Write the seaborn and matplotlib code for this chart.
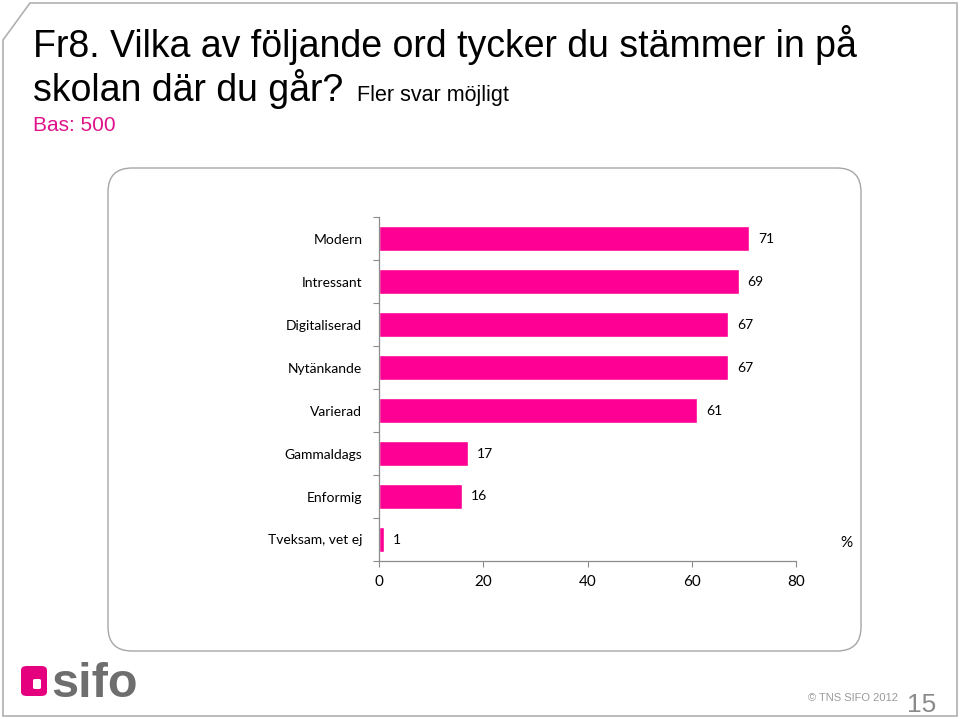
import numpy as np
import pandas as pd
import matplotlib
matplotlib.use("Agg")
import matplotlib.pyplot as plt
import seaborn as sns
from matplotlib.patches import FancyBboxPatch, Polygon

# Data
categories = ["Modern", "Intressant", "Digitaliserad", "Nytänkande",
              "Varierad", "Gammaldags", "Enformig", "Tveksam, vet ej"]
values = [71, 69, 67, 67, 61, 17, 16, 1]
x_ticks = [0, 20, 40, 60, 80]

PINK = "#ff0094"
GREY = "#8c8c8c"

sns.set_theme(style="white")
plt.rcParams["font.family"] = ["Lato", "DejaVu Sans"]

fig = plt.figure(figsize=(9.6, 7.19), dpi=100)
W, H = 960, 719


def fx(px):
    return px / W


def fy(py):
    return 1 - py / H


# slide frame with the cut top-left corner
frame = Polygon([(fx(3), fy(40)), (fx(30), fy(3)), (fx(957), fy(3)),
                 (fx(957), fy(716)), (fx(3), fy(716))],
                closed=True, fill=False, edgecolor="#b0b0b0", lw=1.2,
                transform=fig.transFigure)
fig.patches.append(frame)

# rounded box around the chart
box = FancyBboxPatch((fx(108), fy(651)), fx(861) - fx(108), fy(168) - fy(651),
                     boxstyle="round,pad=0,rounding_size=0.025",
                     fill=False, edgecolor="#a6a6a6", lw=1.0,
                     transform=fig.transFigure, mutation_aspect=W / H)
fig.patches.append(box)

# title
fig.text(fx(33), fy(57), "Fr8. Vilka av följande ord tycker du stämmer in på",
         fontsize=27, family="Liberation Sans", color="black")
fig.text(fx(33), fy(101), "skolan där du går?", fontsize=27,
         family="Liberation Sans", color="black")
fig.text(fx(357), fy(101), "Fler svar möjligt", fontsize=15.5,
         family="Liberation Sans", color="black")
fig.text(fx(33), fy(131), "Bas: 500", fontsize=15,
         family="Liberation Sans", color="#e0128a")

# chart
ax = fig.add_axes([fx(379), fy(561), fx(796) - fx(379), fy(217) - fy(561)])
df = pd.DataFrame({"kategori": categories, "procent": values})
sns.barplot(data=df, x="procent", y="kategori", orient="h", color=PINK,
            saturation=1, width=0.57, ax=ax)

ax.set_xlim(0, 80)
ax.set_ylim(7.5, -0.5)
ax.set_xticks(x_ticks)
ax.set_xlabel("")
ax.set_ylabel("")
ax.tick_params(axis="x", length=4, width=0.8, color=GREY, direction="out",
               labelsize=11, pad=6, bottom=True)
ax.tick_params(axis="y", length=0, labelsize=10, pad=12)
ax.set_yticks(np.arange(-0.5, 8, 1), minor=True)
ax.tick_params(axis="y", which="minor", length=4, width=0.8, color=GREY,
               direction="out", left=True)
for lab in ax.get_xticklabels() + ax.get_yticklabels():
    lab.set_color("black")

sns.despine(ax=ax)
for side in ["left", "bottom"]:
    ax.spines[side].set_color(GREY)
    ax.spines[side].set_linewidth(0.9)
ax.patch.set_alpha(0)

for i, v in enumerate(values):
    ax.text(v + 1.7, i, str(v), va="center", ha="left", fontsize=10,
            color="black")

fig.text(fx(846), fy(543), "%", fontsize=11, ha="center", va="center",
         color="black")

# footer
logo = FancyBboxPatch((fx(21), fy(696)), fx(26), fy(666) - fy(696),
                      boxstyle="round,pad=0,rounding_size=0.006",
                      facecolor="#e5007e", edgecolor="none",
                      transform=fig.transFigure)
fig.patches.append(logo)
notch = FancyBboxPatch((fx(33), fy(689)), fx(8), fy(679) - fy(689),
                       boxstyle="round,pad=0,rounding_size=0.002",
                       facecolor="white", edgecolor="none",
                       transform=fig.transFigure)
fig.patches.append(notch)
fig.text(fx(51), fy(697), "sifo", fontsize=35, fontweight="bold",
         family="Liberation Sans", color="#6e6e6e")
fig.text(fx(808), fy(701), "© TNS SIFO 2012", fontsize=8,
         family="Liberation Sans", color="#9a9a9a")
fig.text(fx(907), fy(712), "15", fontsize=19, family="Liberation Sans",
         color="#8a8a8a")

fig.savefig("out.png", dpi=100)
